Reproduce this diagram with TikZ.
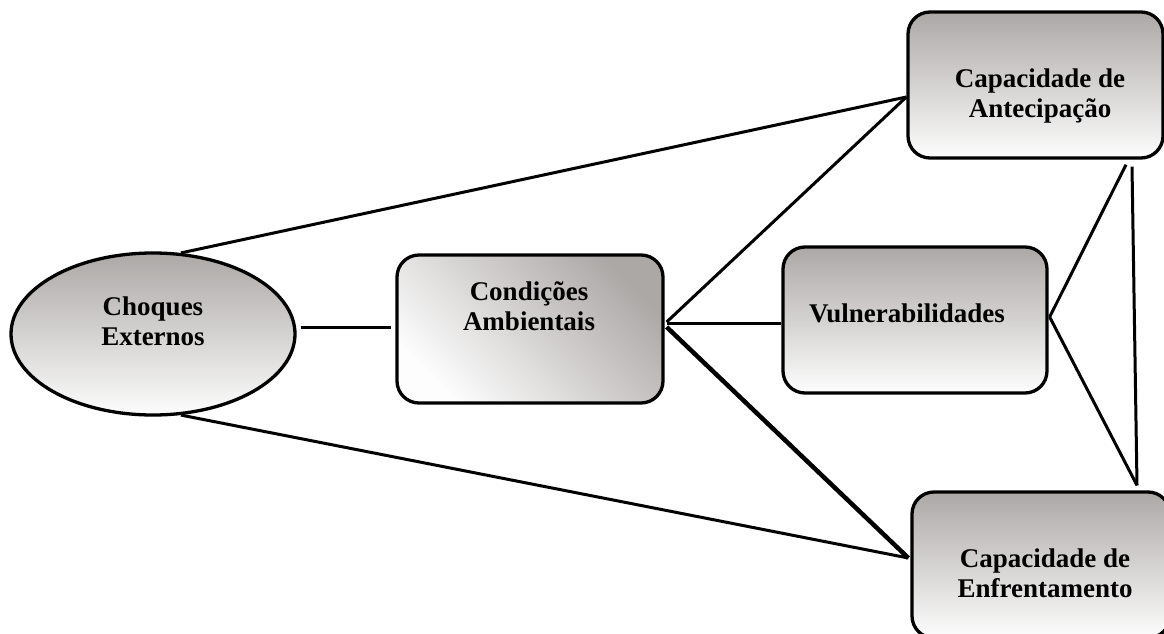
\documentclass[tikz,border=0pt]{standalone}
\usepackage{fontspec}
\setmainfont{Liberation Serif}
\usetikzlibrary{shapes.geometric}
\definecolor{gtop}{RGB}{172,168,166}
\definecolor{gbot}{RGB}{253,253,253}
\begin{document}
\begin{tikzpicture}[x=1pt,y=-1pt,
  shp/.style={draw=black, line width=3.3pt, top color=gtop, bottom color=gbot},
  boxn/.style={shp, rectangle, rounded corners=22pt, inner sep=0pt},
  lbl/.style={font=\fontsize{27}{30}\selectfont\bfseries, align=center, inner sep=0pt, text=black},
  conn/.style={draw=black, line width=3pt},
  thickconn/.style={draw=black, line width=4.5pt}]
\useasboundingbox (0,0) rectangle (1164,634);
% shapes
\node[shp, ellipse, minimum width=284pt, minimum height=162pt, inner sep=0pt] (ell) at (153,334) {};
\node[boxn, minimum width=266pt, minimum height=148pt, shading angle=-45] (cond) at (530,329) {};
\node[boxn, minimum width=264pt, minimum height=146pt] (vul) at (915,320) {};
\node[boxn, minimum width=255pt, minimum height=146pt] (ant) at (1035.5,85) {};
\node[boxn, minimum width=258pt, minimum height=146pt] (enf) at (1041,565) {};
% labels
\node[lbl] (tell) at (153,321) {Choques\\Externos};
\node[lbl] (tcond) at (529,306) {Condições\\Ambientais};
\node[lbl, anchor=base] (tvul) at (907,322) {Vulnerabilidades};
\node[lbl] (tant) at (1040,96) {Capacidade de\\Antecipação};
\node[lbl] (tenf) at (1045,573) {Capacidade de\\Enfrentamento};
% connectors
\draw[conn] (ell.71) -- ([yshift=-12pt]ant.west);
\draw[conn] (ell.-71) -- ([xshift=-2pt,yshift=7pt]enf.west);
\draw[conn] ([xshift=4pt,yshift=7pt]ell.east) -- ([xshift=-4pt,yshift=2pt]cond.west);
\draw[conn] ([xshift=2pt,yshift=7pt]cond.east) -- ([yshift=-12pt]ant.west);
\draw[conn] ([xshift=2pt,yshift=6pt]cond.east) -- ([yshift=-3pt]vul.west);
\draw[thickconn] ([xshift=2pt,yshift=2pt]cond.east) -- ([xshift=-2pt,yshift=7pt]enf.west);
\draw[conn] ([xshift=1pt,yshift=3pt]vul.east) -- ([xshift=90.5pt,yshift=-5pt]ant.south);
\draw[conn] ([xshift=1pt,yshift=3pt]vul.east) -- ([xshift=96pt,yshift=5pt]enf.north);
\draw[conn] ([xshift=96.5pt,yshift=-7pt]ant.south) -- ([xshift=96pt,yshift=5pt]enf.north);
\end{tikzpicture}
\end{document}
